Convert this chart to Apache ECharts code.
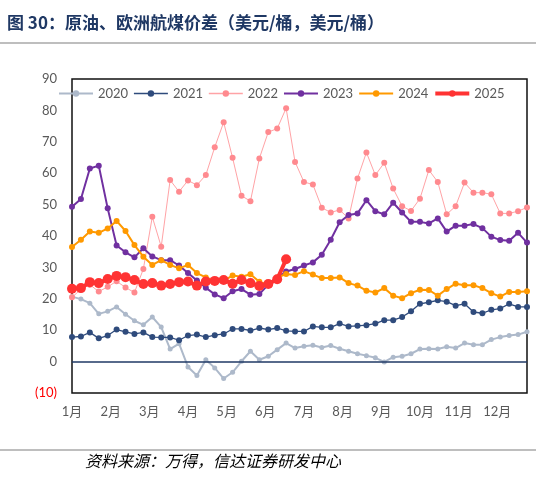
<!DOCTYPE html>
<html>
<head>
<meta charset="utf-8">
<script src="https://cdn.jsdelivr.net/npm/echarts@6/dist/echarts.min.js"></script>
<style>
html,body{margin:0;padding:0;background:#fff;}
#chart{width:536px;height:481px;}
</style>
</head>
<body>
<div id="chart"></div>
<script>
// Weekly data (52 weeks), index 0 = first week of January
const monthLabels = ['1月','2月','3月','4月','5月','6月','7月','8月','9月','10月','11月','12月'];
const yTickLabels = {'-10':'(10)','0':'0','10':'10','20':'20','30':'30','40':'40','50':'50','60':'60','70':'70','80':'80','90':'90'};
const seriesNames = ['2020','2021','2022','2023','2024','2025'];

const s2020 = [20.7,19.9,18.6,15.2,16.0,17.4,15.1,13.0,11.7,14.2,11.0,4.0,5.7,-1.7,-4.4,0.6,-2.0,-5.4,-3.4,0.1,3.3,0.6,1.7,3.8,5.9,4.3,4.9,5.2,4.5,5.1,4.1,3.3,2.5,1.9,1.2,-0.1,1.4,1.7,2.5,4.0,4.1,4.0,4.7,4.3,5.9,5.4,5.4,7.0,7.8,8.3,8.6,9.5];
const s2021 = [7.8,8.0,9.3,7.4,8.3,10.2,9.5,8.8,9.3,7.8,7.7,7.7,6.8,8.3,8.6,7.8,8.4,8.8,10.4,10.4,9.9,10.7,10.2,10.7,9.8,9.6,9.6,11.2,10.9,10.9,12.1,11.2,11.4,11.6,12.1,13.2,13.2,14.2,16.0,18.4,18.9,19.5,19.1,17.8,18.4,15.8,15.4,16.5,16.9,18.4,17.4,17.4];
const s2022 = [20.5,23.0,24.5,22.3,23.8,25.6,23.6,22.0,29.5,46.1,36.6,57.8,54.1,57.7,56.2,59.4,68.3,76.2,64.9,52.8,51.1,64.7,73.1,74.2,80.7,63.6,57.2,56.4,49.0,47.5,48.3,45.6,58.3,66.6,59.4,63.3,55.1,49.5,48.0,51.9,61.0,57.2,46.9,49.5,57.0,53.8,53.8,53.3,47.2,47.2,47.9,49.1];
const s2023 = [49.3,51.8,61.5,62.4,48.8,37.0,34.8,33.2,36.1,33.5,32.3,32.3,30.6,28.2,25.8,23.5,21.4,20.2,22.4,23.1,21.3,21.5,24.5,26.6,28.7,29.5,30.6,31.6,34.0,38.8,44.4,46.7,47.2,51.4,47.9,46.9,50.6,47.5,44.5,44.5,44.0,45.6,41.4,43.3,43.3,43.8,42.5,39.8,38.7,38.5,41.0,37.9];
const s2024 = [36.5,38.8,41.4,41.0,42.4,44.8,41.6,37.1,33.4,30.8,32.3,30.8,29.7,30.8,28.2,26.8,25.8,25.8,27.4,27.0,27.8,25.4,24.5,26.8,27.9,27.6,28.8,27.7,26.6,26.6,26.8,25.0,24.2,22.6,22.0,23.4,21.0,20.2,21.8,22.9,22.8,21.0,23.1,24.8,24.3,24.3,23.4,21.8,20.7,22.2,22.2,22.4];
const s2025 = [23.2,23.4,25.3,25.0,26.3,27.3,26.9,26.0,24.7,25.0,24.2,24.7,25.3,25.5,24.2,25.5,25.7,26.0,24.8,26.0,25.0,24.1,24.7,26.2,32.6];

const allSeries = [s2020,s2021,s2022,s2023,s2024,s2025];
const styles = [
  {color:'#ADB9CA', lw:2,   sym:5},
  {color:'#2F4B7C', lw:1.3, sym:6},
  {color:'#FF8A8F', lw:1,   sym:6, lineColor:'#FFA3A6'},
  {color:'#7030A0', lw:2,   sym:6},
  {color:'#FF9900', lw:2,   sym:6},
  {color:'#FF3333', lw:4,   sym:10}
];

const chart = echarts.init(document.getElementById('chart'));
const weeksPerMonth = 52/12;
const FONT = 'Lato, "Noto Sans CJK SC", sans-serif';

const series = allSeries.map((arr, k) => ({
  name: seriesNames[k],
  type: 'line',
  data: arr.map((v, i) => [i, v]),
  symbol: 'circle',
  symbolSize: styles[k].sym,
  showSymbol: true,
  itemStyle: {color: styles[k].color},
  lineStyle: {color: styles[k].lineColor || styles[k].color, width: styles[k].lw},
  z: 2 + k,
  animation: false,
  markLine: k === 0 ? {
    silent: true, symbol: 'none', label: {show: false},
    lineStyle: {color: '#1F3864', width: 1.5, type: 'solid'},
    data: [{yAxis: 0}]
  } : undefined
}));

chart.setOption({
  animation: false,
  backgroundColor: '#fff',
  title: {
    text: '图 30：原油、欧洲航煤价差（美元/桶，美元/桶）',
    left: 2, top: 9,
    textStyle: {fontSize: 17, fontWeight: 'bold', color: '#1F3864', fontFamily: '"Noto Sans CJK SC", sans-serif'}
  },
  graphic: [
    {type: 'line', shape: {x1: 0, y1: 43, x2: 536, y2: 43}, style: {stroke: '#7F7F7F', lineWidth: 1.2}},
    {type: 'line', shape: {x1: 0, y1: 450, x2: 536, y2: 450}, style: {stroke: '#7F7F7F', lineWidth: 1.2}},
    {type: 'text', left: 85, top: 453, style: {text: '资料来源：万得，信达证券研发中心', fontSize: 16, fontStyle: 'italic', fill: '#000', fontFamily: '"Noto Sans CJK SC", sans-serif'}}
  ],
  legend: {
    data: seriesNames.map((n, k) => ({name: n, lineStyle: {width: Math.max(styles[k].lw, 1.5)}})),
    left: 58, top: 87, padding: 0,
    itemWidth: 34, itemHeight: 8, itemGap: 5,
    textStyle: {fontSize: 13, color: '#595959', fontFamily: FONT}
  },
  grid: {left: 72, right: 9, top: 79, bottom: 88, show: true, borderColor: '#111', borderWidth: 1.5, backgroundColor: 'transparent'},
  xAxis: {
    type: 'value', min: 0, max: 51, interval: weeksPerMonth,
    axisLine: {show: false}, axisTick: {show: false}, splitLine: {show: false},
    axisLabel: {
      margin: 12, fontSize: 13, color: '#595959', fontFamily: FONT, showMaxLabel: false,
      formatter: v => { const m = Math.round(v / weeksPerMonth); return (m >= 0 && m < 12 && v < 50) ? monthLabels[m] : ''; }
    }
  },
  yAxis: {
    type: 'value', min: -10, max: 90, interval: 10,
    axisLine: {show: false}, axisTick: {show: false}, splitLine: {show: false},
    axisLabel: {
      margin: 15, fontSize: 13, fontFamily: FONT,
      formatter: v => yTickLabels[String(v)] || String(v),
      color: v => (v < 0 ? '#FF0000' : '#595959')
    }
  },
  series: series
});
</script>
</body>
</html>
